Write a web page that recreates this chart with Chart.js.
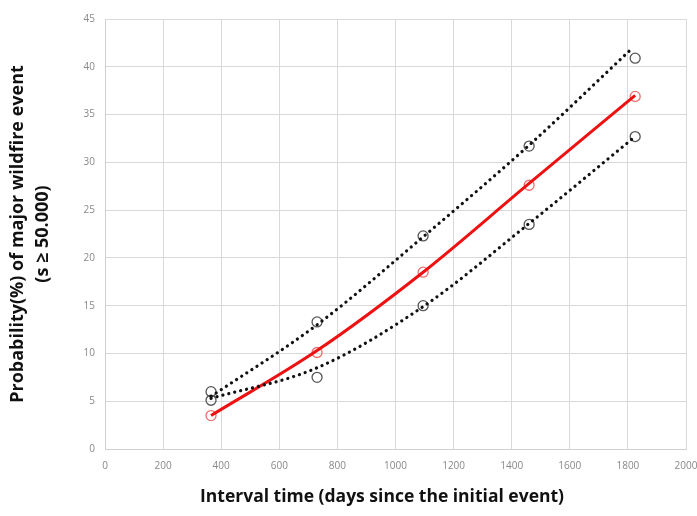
<!DOCTYPE html>
<html><head><meta charset="utf-8">
<script src="https://cdn.jsdelivr.net/npm/chart.js@4"></script>
<style>html,body{margin:0;padding:0;background:#fff}#wrap{width:697px;height:516px}</style>
</head><body><div id="wrap"><canvas id="c" width="697" height="516"></canvas></div>
<script>
const days = [365, 730, 1095, 1460, 1825];
const probMean = [3.5, 10.1, 18.5, 27.6, 36.9];
const probUpper = [6.0, 13.3, 22.3, 31.7, 40.9];
const probLower = [5.1, 7.5, 15.0, 23.5, 32.7];
const trendMeanX = [365, 730, 1095, 1460, 1825];
const trendMean = [3.5, 10.3, 18.5, 27.8, 37.0];
const trendUpperX = [365, 730, 1095, 1460, 1810];
const trendUpper = [5.5, 13.0, 22.2, 31.8, 41.8];
const trendLowerX = [365, 730, 1095, 1460, 1825];
const trendLower = [5.3, 8.5, 14.9, 23.6, 32.7];
const xTicks = [0,200,400,600,800,1000,1200,1400,1600,1800,2000];
const yTicks = [0,5,10,15,20,25,30,35,40,45];
const xTitle = 'Interval time (days since the initial event)';

const pts = (xs, ys) => xs.map((x,i)=>({x, y: ys[i]}));
const trendStyle = {pointRadius:0, fill:false, cubicInterpolationMode:'monotone', showLine:true};
const xTitlePlugin = {
  id:'xTitle',
  afterDraw(chart){
    const ctx = chart.ctx;
    ctx.save();
    ctx.font = 'bold 17.5px "Open Sans"';
    ctx.fillStyle = '#111';
    ctx.textAlign = 'center';
    ctx.textBaseline = 'middle';
    ctx.fillText(xTitle, 382, 497);
    ctx.restore();
  }
};
new Chart(document.getElementById('c'), {
  type: 'scatter',
  plugins:[xTitlePlugin],
  data: { datasets: [
    Object.assign({label:'upper trend', data: pts(trendUpperX, trendUpper), borderColor:'#111', borderWidth:3.2, borderDash:[0.1,6], borderCapStyle:'round'}, trendStyle),
    Object.assign({label:'lower trend', data: pts(trendLowerX, trendLower), borderColor:'#111', borderWidth:3.2, borderDash:[0.1,6], borderCapStyle:'round'}, trendStyle),
    Object.assign({label:'mean trend', data: pts(trendMeanX, trendMean), borderColor:'#ee1111', borderWidth:3}, trendStyle),
    {label:'upper', data: pts(days, probUpper), showLine:false, pointRadius:5, pointBorderWidth:1.3, pointBorderColor:'#555', pointBackgroundColor:'rgba(0,0,0,0)'},
    {label:'lower', data: pts(days, probLower), showLine:false, pointRadius:5, pointBorderWidth:1.3, pointBorderColor:'#555', pointBackgroundColor:'rgba(0,0,0,0)'},
    {label:'mean', data: pts(days, probMean), showLine:false, pointRadius:5, pointBorderWidth:1.3, pointBorderColor:'#f07070', pointBackgroundColor:'rgba(0,0,0,0)'}
  ]},
  options: {
    responsive:false, animation:false, devicePixelRatio:1,
    layout:{padding:{top:19, right:11, left:0, bottom:0}},
    plugins:{legend:{display:false}, tooltip:{enabled:false}},
    scales:{
      x:{type:'linear', min:0, max:2000,
        afterBuildTicks: s => { s.ticks = xTicks.map(v=>({value:v})); },
        afterFit: s => { s.height = 67; s.paddingRight = 0; s.paddingLeft = 0; },
        grid:{color:'#d9d9d9', drawTicks:false},
        border:{color:'#d0d0d0'},
        ticks:{color:'#888', font:{family:'Open Sans', size:10}, padding:11, maxRotation:0, callback: v => String(v)},
        title:{display:false}
      },
      y:{type:'linear', min:0, max:45,
        afterBuildTicks: s => { s.ticks = yTicks.map(v=>({value:v})); },
        afterFit: s => { s.width = 105; },
        grid:{color:'#d9d9d9', drawTicks:false},
        border:{color:'#d0d0d0'},
        ticks:{color:'#888', font:{family:'Open Sans', size:10}, padding:10, callback: v => String(v)},
        title:{display:true, text:['Probability(%) of major wildfire event','(s \u2265 50.000)'], color:'#111', font:{family:'Open Sans', size:18, weight:'bold', lineHeight:1.36}, padding:{bottom:0, top:6}}
      }
    }
  }
});
</script></body></html>
